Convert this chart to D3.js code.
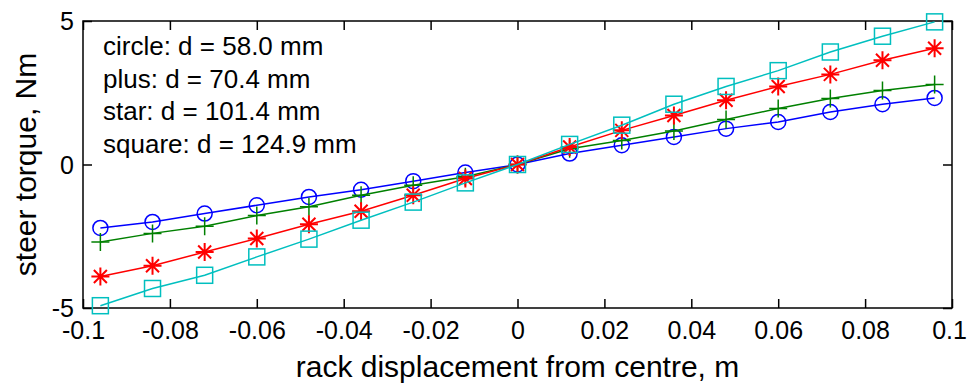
<!DOCTYPE html>
<html><head><meta charset="utf-8">
<script src="https://cdn.jsdelivr.net/npm/d3@7"></script>
<style>body{margin:0;background:#fff;}svg{display:block;}text{font-family:"Liberation Sans",Arial,sans-serif;fill:#000;}</style>
</head><body>
<svg id="c" width="967" height="387"></svg>
<script>
const xValues = [-0.096,-0.084,-0.072,-0.060,-0.048,-0.036,-0.024,-0.012,0,0.012,0.024,0.036,0.048,0.060,0.072,0.084,0.096];
const circleVals = [-2.21,-2.0,-1.71,-1.42,-1.13,-0.88,-0.58,-0.28,0,0.38,0.67,0.96,1.25,1.48,1.83,2.1,2.32];
const plusVals   = [-2.7,-2.4,-2.15,-1.78,-1.47,-1.07,-0.72,-0.43,0,0.55,0.84,1.17,1.57,1.95,2.3,2.58,2.79];
const starVals   = [-3.9,-3.53,-3.05,-2.58,-2.08,-1.63,-1.07,-0.49,0,0.61,1.19,1.71,2.24,2.72,3.14,3.63,4.05];
const squareVals = [-4.92,-4.32,-3.86,-3.22,-2.6,-1.94,-1.31,-0.64,0,0.70,1.37,2.1,2.72,3.27,3.92,4.47,4.97];
const xTicks = [-0.1,-0.08,-0.06,-0.04,-0.02,0,0.02,0.04,0.06,0.08,0.1];
const xTickLabels = ["-0.1","-0.08","-0.06","-0.04","-0.02","0","0.02","0.04","0.06","0.08","0.1"];
const yTicks = [-5,0,5];
const yTickLabels = ["-5","0","5"];
const legendLines = ["circle: d = 58.0 mm","plus: d = 70.4 mm","star: d = 101.4 mm","square: d = 124.9 mm"];
const xLabel = "rack displacement from centre, m";
const yLabel = "steer torque, Nm";

const series = [
  {vals: circleVals, color:"#0000ff", marker:"circle"},
  {vals: plusVals, color:"#008000", marker:"plus"},
  {vals: starVals, color:"#ff0000", marker:"star"},
  {vals: squareVals, color:"#00bfbf", marker:"square"}
];

const L=83, R=952, T=21, B=308;
const svg = d3.select("#c");
const x = d3.scaleLinear().domain([-0.1,0.1]).range([L,R]);
const y = d3.scaleLinear().domain([-5,5]).range([B,T]);

const tickLen = 9;
const xAxisB = d3.axisBottom(x).tickValues(xTicks).tickFormat((d,i)=>xTickLabels[i]).tickSize(-tickLen).tickPadding(13);
const gB = svg.append("g").attr("transform",`translate(0,${B})`).call(xAxisB);
const xAxisT = d3.axisTop(x).tickValues(xTicks).tickFormat("").tickSize(-tickLen);
const gT = svg.append("g").attr("transform",`translate(0,${T})`).call(xAxisT);
const yAxisL = d3.axisLeft(y).tickValues(yTicks).tickFormat((d,i)=>yTickLabels[i]).tickSize(-tickLen).tickPadding(9);
const gL = svg.append("g").attr("transform",`translate(${L},0)`).call(yAxisL);
const yAxisR = d3.axisRight(y).tickValues(yTicks).tickFormat("").tickSize(-tickLen);
const gR = svg.append("g").attr("transform",`translate(${R},0)`).call(yAxisR);
[gB,gT,gL,gR].forEach(g=>{
  g.select(".domain").remove();
  g.selectAll(".tick line").attr("stroke","#000").attr("stroke-width",1.5);
  g.selectAll("text").style("font-size","25px").style("font-family","'Liberation Sans',Arial,sans-serif").attr("fill","#000");
});
gB.selectAll("text").attr("dy","0.71em").attr("dx",(d,i)=> i===xTicks.length-1 ? -3 : 0);
gL.selectAll("text").attr("dy","0.35em");

svg.append("rect").attr("x",L).attr("y",T).attr("width",R-L).attr("height",B-T)
  .attr("fill","none").attr("stroke","#000").attr("stroke-width",1.5);

const line = d3.line().x(d=>x(d[0])).y(d=>y(d[1]));
series.forEach(s=>{
  const pts = xValues.map((xv,i)=>[xv,s.vals[i]]);
  svg.append("path").attr("d",line(pts)).attr("fill","none").attr("stroke",s.color).attr("stroke-width",1.5);
  const g = svg.append("g").attr("stroke",s.color).attr("stroke-width",1.5).attr("fill","none");
  pts.forEach(p=>{
    const cx=x(p[0]), cy=y(p[1]);
    if(s.marker==="circle"){
      g.append("circle").attr("cx",cx).attr("cy",cy).attr("r",7.5);
    } else if(s.marker==="plus"){
      const h=9;
      g.append("path").attr("d",`M${cx-h},${cy}H${cx+h}M${cx},${cy-h}V${cy+h}`);
    } else if(s.marker==="star"){
      const h=9, d=6.5;
      g.append("path").attr("d",`M${cx-h},${cy}H${cx+h}M${cx},${cy-h}V${cy+h}M${cx-d},${cy-d}L${cx+d},${cy+d}M${cx-d},${cy+d}L${cx+d},${cy-d}`).attr("stroke-width",2);
    } else {
      const h=8;
      g.append("rect").attr("x",cx-h).attr("y",cy-h).attr("width",2*h).attr("height",2*h);
    }
  });
});

const lg = svg.append("g");
legendLines.forEach((t,i)=>{
  lg.append("text").attr("x",103).attr("y",55+i*32.5).style("font-size","26px").text(t);
});

svg.append("text").attr("x",(L+R)/2).attr("y",377).attr("text-anchor","middle").style("font-size","30px").text(xLabel);
svg.append("text").attr("transform",`translate(36,${(T+B)/2}) rotate(-90)`).attr("text-anchor","middle").style("font-size","30px").text(yLabel);
</script>
</body></html>
